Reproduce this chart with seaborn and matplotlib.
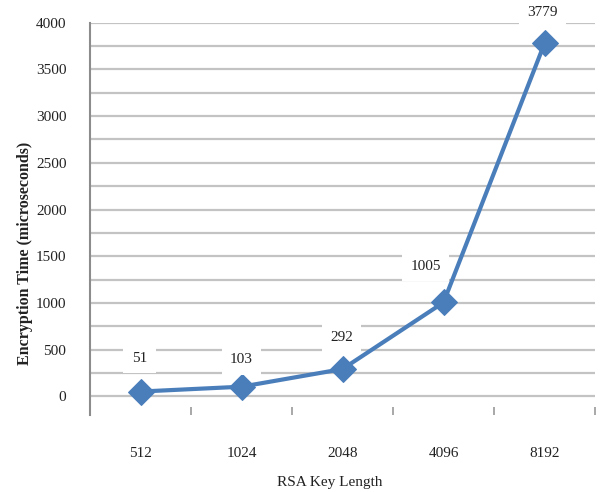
import matplotlib
matplotlib.use("Agg")
import matplotlib.pyplot as plt
from matplotlib.ticker import MultipleLocator, FixedLocator
import seaborn as sns
import pandas as pd

# RSA encryption timing
key_lengths = ["512", "1024", "2048", "4096", "8192"]
enc_time_us = [51, 103, 292, 1005, 3779]
y_ticks = [0, 500, 1000, 1500, 2000, 2500, 3000, 3500, 4000]

df = pd.DataFrame({"key": key_lengths, "time": enc_time_us})

sns.set_theme(style="white")
plt.rcParams["font.family"] = ["Liberation Serif", "DejaVu Serif"]

fig = plt.figure(figsize=(6.0, 4.92), dpi=100)
ax = fig.add_axes([0.15, 0.1565, 0.8417, 0.7974])

line_color = "#4a7ebb"
grid_color = "#c3c3c3"

sns.lineplot(data=df, x="key", y="time", ax=ax, color=line_color,
             linewidth=3, marker="D", markersize=13,
             markeredgecolor=line_color, zorder=3)

ax.set_xlim(-0.5, len(key_lengths) - 0.5)
ax.set_ylim(-200, 4000)

# y axis: labelled ticks every 500, gridlines every 250
ax.yaxis.set_major_locator(FixedLocator(y_ticks))
ax.set_yticklabels([str(v) for v in y_ticks])
ax.yaxis.set_minor_locator(MultipleLocator(250))
ax.grid(False)
ax.grid(axis="y", which="both", color=grid_color, linewidth=1.6, zorder=0)
ax.tick_params(axis="y", which="major", direction="out", length=6,
               width=1.2, color="#8c8c8c", pad=11, labelsize=11,
               labelcolor="#222222")
ax.tick_params(axis="y", which="minor", length=0)

# x axis: category labels, small inward marks between categories
ax.set_xticks(range(len(key_lengths)))
ax.set_xticklabels(key_lengths)
ax.xaxis.set_minor_locator(FixedLocator([i + 0.5 for i in range(len(key_lengths))]))
ax.tick_params(axis="x", which="major", length=0, pad=23, labelsize=11,
               labelcolor="#222222")
ax.tick_params(axis="x", which="minor", direction="in", length=6,
               width=1.2, color="#9a9a9a", bottom=True)

for side in ["top", "right", "bottom"]:
    ax.spines[side].set_visible(False)
ax.spines["left"].set_color("#8c8c8c")
ax.spines["left"].set_linewidth(1.5)

ax.set_xlabel("RSA Key Length", fontsize=11, color="#222222")
ax.set_ylabel("Encryption Time (microseconds)", fontsize=11.5,
              fontweight="bold", color="#222222")
ax.xaxis.set_label_coords(0.475, -0.155)
ax.yaxis.set_label_coords(-0.113, 0.413)

# value labels on white boxes above each point
label_offsets = [(-1, 33), (0, 27), (-1, 32), (-18, 36), (-2, 31)]
for i, (val, off) in enumerate(zip(enc_time_us, label_offsets)):
    ax.annotate(str(val), xy=(i, val), xytext=off,
                textcoords="offset pixels", ha="center", va="center",
                fontsize=11, color="#222222", zorder=5,
                bbox=dict(boxstyle="square,pad=0.55", fc="white",
                          ec="none"))

fig.savefig("out.png", dpi=100)
